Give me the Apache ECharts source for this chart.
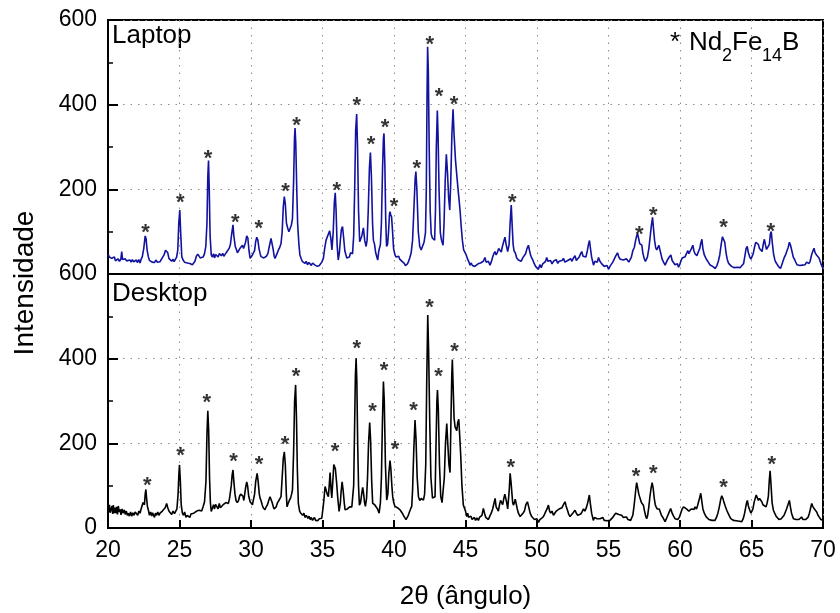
<!DOCTYPE html>
<html>
<head>
<meta charset="utf-8">
<script src="https://cdn.jsdelivr.net/npm/echarts@6/dist/echarts.min.js"></script>
<style>
html,body{margin:0;padding:0;background:#fff;}
#chart{width:840px;height:613px;}
</style>
</head>
<body>
<div id="chart"></div>
<script>
// ---- Data (2θ in degrees, intensity in counts) ----
const xTicks = [20, 25, 30, 35, 40, 45, 50, 55, 60, 65, 70];
const yTicks = [0, 200, 400, 600];
const panelNames = ['Laptop', 'Desktop'];

const laptopPattern = [
[20.00,47],[20.10,40],[20.18,44],[20.26,37],[20.35,35],[20.45,40],[20.52,31],[20.61,33],[20.70,36],[20.80,30],[20.90,35],[20.96,53],[21.02,34],[21.10,30],[21.20,36],[21.30,31],[21.40,35],[21.54,33],[21.62,28],[21.70,34],[21.80,29],[21.89,25],[21.98,33],[22.05,27],[22.15,34],[22.24,26],[22.32,35],[22.40,41],[22.50,60],[22.60,90],[22.66,84],[22.74,55],[22.82,41],[22.90,32],[23.00,35],[23.08,28],[23.17,31],[23.25,27],[23.35,33],[23.45,28],[23.55,32],[23.64,29],[23.72,34],[23.82,37],[23.92,45],[24.02,56],[24.10,58],[24.18,50],[24.26,37],[24.35,33],[24.45,30],[24.55,35],[24.62,29],[24.70,33],[24.80,40],[24.88,57],[24.95,120],[25.02,151],[25.08,100],[25.16,41],[25.25,33],[25.35,28],[25.45,32],[25.55,26],[25.63,29],[25.72,25],[25.82,27],[25.90,22],[25.98,24],[26.08,30],[26.18,42],[26.28,47],[26.36,44],[26.45,38],[26.56,41],[26.65,40],[26.75,48],[26.84,65],[26.92,120],[26.98,230],[27.03,268],[27.08,200],[27.14,90],[27.22,45],[27.30,40],[27.38,48],[27.45,38],[27.53,46],[27.62,45],[27.70,40],[27.78,48],[27.85,50],[27.93,43],[28.02,49],[28.10,42],[28.20,47],[28.30,52],[28.40,56],[28.48,61],[28.56,70],[28.65,95],[28.74,116],[28.80,90],[28.90,65],[28.98,58],[29.05,50],[29.13,53],[29.22,60],[29.30,58],[29.40,68],[29.48,60],[29.55,61],[29.62,75],[29.70,90],[29.78,85],[29.86,55],[29.94,37],[30.02,40],[30.10,45],[30.17,49],[30.25,55],[30.32,75],[30.40,87],[30.48,80],[30.56,60],[30.64,48],[30.70,41],[30.80,44],[30.90,38],[30.98,37],[31.08,42],[31.18,48],[31.28,65],[31.40,84],[31.47,80],[31.55,58],[31.62,42],[31.68,37],[31.75,40],[31.82,48],[31.92,57],[32.00,62],[32.10,72],[32.18,100],[32.26,160],[32.33,183],[32.40,165],[32.48,120],[32.57,108],[32.65,100],[32.73,104],[32.82,115],[32.90,131],[32.98,220],[33.04,320],[33.08,345],[33.13,310],[33.20,200],[33.26,120],[33.35,70],[33.42,45],[33.50,37],[33.58,30],[33.66,28],[33.78,25],[33.86,30],[33.95,22],[34.05,27],[34.13,24],[34.22,20],[34.30,26],[34.40,22],[34.48,21],[34.56,25],[34.64,18],[34.71,17],[34.78,20],[34.86,22],[34.95,28],[35.06,37],[35.15,60],[35.25,80],[35.33,78],[35.42,95],[35.50,102],[35.58,85],[35.66,57],[35.75,100],[35.83,170],[35.89,192],[35.95,150],[36.02,70],[36.10,33],[36.18,50],[36.25,80],[36.32,105],[36.40,112],[36.48,85],[36.56,55],[36.64,45],[36.70,38],[36.80,42],[36.88,40],[36.96,50],[37.04,53],[37.10,48],[37.18,90],[37.25,200],[37.32,340],[37.39,378],[37.45,300],[37.52,150],[37.60,76],[37.68,72],[37.75,90],[37.86,109],[37.95,80],[38.05,65],[38.12,80],[38.20,150],[38.28,250],[38.35,287],[38.42,230],[38.50,120],[38.56,80],[38.64,70],[38.72,50],[38.80,40],[38.86,33],[38.94,55],[39.05,70],[39.12,120],[39.20,250],[39.26,320],[39.30,332],[39.36,260],[39.42,130],[39.48,65],[39.55,70],[39.62,100],[39.68,140],[39.72,147],[39.77,140],[39.83,135],[39.90,100],[39.97,60],[40.07,45],[40.15,40],[40.25,38],[40.33,42],[40.40,35],[40.48,37],[40.56,30],[40.64,32],[40.72,25],[40.80,20],[40.86,17],[40.94,24],[41.02,30],[41.10,38],[41.20,50],[41.30,80],[41.40,160],[41.48,225],[41.53,242],[41.60,200],[41.70,100],[41.80,65],[41.90,57],[42.00,60],[42.10,75],[42.20,97],[42.26,200],[42.31,420],[42.35,537],[42.40,480],[42.46,300],[42.53,150],[42.60,95],[42.68,85],[42.76,82],[42.84,80],[42.90,150],[42.96,300],[43.03,386],[43.08,330],[43.15,200],[43.24,97],[43.32,80],[43.43,68],[43.50,120],[43.58,220],[43.66,283],[43.74,240],[43.82,180],[43.90,151],[43.97,220],[44.05,330],[44.13,389],[44.20,330],[44.30,269],[44.40,230],[44.48,200],[44.55,175],[44.62,150],[44.70,112],[44.78,80],[44.87,57],[44.97,53],[45.05,45],[45.15,35],[45.22,30],[45.32,21],[45.40,26],[45.48,20],[45.56,23],[45.65,18],[45.72,22],[45.78,17],[45.88,24],[45.96,20],[46.05,26],[46.15,22],[46.25,30],[46.36,39],[46.44,28],[46.52,25],[46.60,30],[46.71,21],[46.80,28],[46.90,40],[46.98,48],[47.06,53],[47.14,45],[47.22,50],[47.32,60],[47.41,57],[47.50,52],[47.58,65],[47.66,75],[47.76,87],[47.84,70],[47.95,53],[48.05,70],[48.12,120],[48.20,163],[48.27,110],[48.33,70],[48.39,55],[48.48,50],[48.58,38],[48.70,33],[48.80,35],[48.90,30],[49.00,38],[49.10,42],[49.20,48],[49.30,60],[49.40,68],[49.48,55],[49.55,45],[49.63,38],[49.72,32],[49.80,25],[49.90,18],[50.00,20],[50.10,11],[50.20,22],[50.30,15],[50.40,24],[50.50,20],[50.60,30],[50.68,39],[50.76,30],[50.85,26],[50.95,32],[51.05,24],[51.15,30],[51.26,29],[51.35,34],[51.45,25],[51.55,30],[51.65,28],[51.75,32],[51.85,37],[51.95,28],[52.05,24],[52.15,32],[52.25,28],[52.35,36],[52.45,30],[52.55,38],[52.66,43],[52.75,32],[52.85,28],[52.95,40],[53.05,48],[53.13,53],[53.22,42],[53.32,45],[53.42,40],[53.52,55],[53.60,70],[53.67,79],[53.74,60],[53.82,40],[53.95,21],[54.05,30],[54.15,34],[54.22,28],[54.30,39],[54.40,30],[54.50,25],[54.60,22],[54.70,18],[54.80,15],[54.90,20],[55.00,11],[55.10,18],[55.20,20],[55.30,28],[55.40,35],[55.50,42],[55.63,50],[55.72,40],[55.82,35],[55.92,38],[56.05,33],[56.15,30],[56.25,36],[56.35,32],[56.42,28],[56.50,29],[56.60,40],[56.70,55],[56.80,62],[56.90,80],[56.97,90],[57.03,96],[57.10,85],[57.18,72],[57.26,74],[57.33,68],[57.40,50],[57.50,36],[57.58,30],[57.63,29],[57.72,40],[57.82,60],[57.92,90],[58.00,115],[58.08,134],[58.14,110],[58.22,80],[58.30,62],[58.38,57],[58.46,60],[58.52,68],[58.57,65],[58.66,48],[58.75,35],[58.85,28],[58.96,21],[59.05,28],[59.15,35],[59.25,40],[59.36,45],[59.45,32],[59.55,28],[59.65,22],[59.75,20],[59.82,24],[59.90,16],[59.98,22],[60.06,30],[60.15,38],[60.25,34],[60.36,41],[60.45,48],[60.55,55],[60.62,48],[60.70,52],[60.80,60],[60.90,68],[60.97,55],[61.05,48],[61.12,50],[61.18,43],[61.28,52],[61.38,60],[61.45,72],[61.53,82],[61.60,60],[61.70,45],[61.80,38],[61.88,33],[61.98,28],[62.08,22],[62.18,24],[62.28,18],[62.38,16],[62.47,13],[62.58,20],[62.68,30],[62.78,45],[62.88,70],[62.97,88],[63.05,92],[63.13,75],[63.22,50],[63.30,35],[63.40,25],[63.50,22],[63.60,18],[63.70,20],[63.80,15],[63.90,18],[64.00,16],[64.10,20],[64.20,15],[64.33,16],[64.45,25],[64.55,45],[64.62,60],[64.70,65],[64.78,50],[64.88,40],[64.96,35],[65.04,33],[65.12,48],[65.22,65],[65.30,75],[65.39,79],[65.48,70],[65.56,60],[65.64,62],[65.74,53],[65.82,70],[65.90,82],[65.98,68],[66.05,58],[66.10,61],[66.18,55],[66.25,70],[66.32,95],[66.38,100],[66.45,75],[66.54,48],[66.62,35],[66.68,29],[66.78,25],[66.88,18],[66.96,15],[67.03,13],[67.12,22],[67.20,30],[67.28,38],[67.38,45],[67.48,55],[67.56,62],[67.65,75],[67.73,68],[67.82,55],[67.92,40],[68.00,35],[68.08,29],[68.18,22],[68.28,25],[68.38,20],[68.46,24],[68.55,21],[68.65,25],[68.75,22],[68.85,28],[68.95,24],[69.02,25],[69.10,30],[69.20,45],[69.30,55],[69.37,61],[69.45,50],[69.55,45],[69.62,42],[69.72,38],[69.80,30],[69.88,22],[69.95,18],[70.00,13]
];

const desktopPattern = [
[20.00,50],[20.05,38],[20.10,55],[20.15,36],[20.21,39],[20.28,52],[20.33,33],[20.37,54],[20.43,35],[20.50,48],[20.54,35],[20.60,50],[20.66,32],[20.72,52],[20.78,38],[20.85,44],[20.91,31],[20.98,45],[21.05,35],[21.14,43],[21.20,32],[21.28,40],[21.35,30],[21.42,35],[21.50,28],[21.58,38],[21.66,28],[21.74,36],[21.82,30],[21.90,38],[22.00,36],[22.08,30],[22.16,40],[22.24,35],[22.30,43],[22.38,40],[22.45,60],[22.50,62],[22.55,55],[22.60,80],[22.65,91],[22.70,70],[22.76,50],[22.82,43],[22.90,30],[22.98,38],[23.06,28],[23.12,36],[23.17,33],[23.25,25],[23.32,35],[23.40,30],[23.48,38],[23.56,30],[23.64,35],[23.72,32],[23.80,40],[23.90,38],[24.00,48],[24.10,58],[24.18,48],[24.26,40],[24.35,39],[24.45,32],[24.55,40],[24.65,34],[24.74,36],[24.82,45],[24.90,80],[24.96,130],[25.00,149],[25.06,110],[25.12,55],[25.20,35],[25.28,30],[25.36,38],[25.45,25],[25.54,30],[25.63,27],[25.72,25],[25.80,33],[25.90,30],[26.00,35],[26.10,35],[26.20,40],[26.30,38],[26.38,42],[26.45,43],[26.55,40],[26.65,50],[26.75,62],[26.85,110],[26.92,220],[26.98,277],[27.04,230],[27.10,120],[27.16,60],[27.22,39],[27.30,42],[27.38,55],[27.45,45],[27.52,56],[27.62,54],[27.70,45],[27.78,58],[27.86,48],[27.97,50],[28.05,55],[28.15,52],[28.25,60],[28.32,62],[28.42,58],[28.50,70],[28.55,74],[28.62,100],[28.68,125],[28.74,137],[28.80,110],[28.88,80],[28.95,65],[29.04,60],[29.13,65],[29.20,75],[29.28,80],[29.36,82],[29.44,75],[29.50,65],[29.55,69],[29.62,95],[29.70,109],[29.76,100],[29.84,75],[29.94,62],[30.02,58],[30.10,55],[30.17,58],[30.25,80],[30.33,110],[30.43,129],[30.50,110],[30.58,80],[30.64,70],[30.70,65],[30.78,55],[30.85,48],[30.92,46],[30.98,43],[31.06,50],[31.15,55],[31.24,65],[31.33,74],[31.40,70],[31.48,60],[31.56,50],[31.62,45],[31.68,43],[31.76,50],[31.86,60],[31.95,65],[32.03,68],[32.10,74],[32.18,120],[32.26,165],[32.33,180],[32.40,150],[32.47,80],[32.52,50],[32.57,50],[32.62,60],[32.68,65],[32.76,70],[32.84,80],[32.90,90],[32.98,180],[33.05,300],[33.12,338],[33.18,260],[33.24,140],[33.31,58],[33.40,40],[33.48,35],[33.55,31],[33.62,30],[33.70,35],[33.78,25],[33.86,30],[33.90,27],[33.98,23],[34.06,28],[34.14,20],[34.22,25],[34.30,18],[34.36,20],[34.44,25],[34.52,18],[34.60,22],[34.66,17],[34.71,17],[34.78,22],[34.86,20],[34.95,23],[34.99,27],[35.08,60],[35.18,98],[35.25,98],[35.33,80],[35.41,74],[35.47,100],[35.53,131],[35.60,90],[35.65,71],[35.72,110],[35.79,150],[35.83,153],[35.90,140],[35.99,106],[36.07,70],[36.16,39],[36.25,60],[36.30,85],[36.37,109],[36.44,90],[36.52,60],[36.58,43],[36.66,40],[36.74,45],[36.81,43],[36.90,50],[36.98,54],[37.05,50],[37.11,51],[37.18,100],[37.24,230],[37.30,360],[37.35,401],[37.40,350],[37.46,200],[37.52,100],[37.58,54],[37.66,60],[37.74,80],[37.81,96],[37.88,80],[37.94,60],[38.00,51],[38.08,70],[38.15,120],[38.22,200],[38.30,249],[38.36,210],[38.44,110],[38.51,58],[38.58,62],[38.65,55],[38.75,51],[38.85,45],[38.96,35],[39.05,60],[39.12,120],[39.19,250],[39.26,346],[39.32,300],[39.40,150],[39.49,66],[39.57,80],[39.64,130],[39.72,159],[39.78,140],[39.85,100],[39.91,74],[39.98,60],[40.07,51],[40.15,55],[40.24,48],[40.33,52],[40.42,43],[40.50,40],[40.58,35],[40.66,30],[40.74,25],[40.84,20],[40.92,23],[41.00,30],[41.08,38],[41.16,45],[41.24,51],[41.30,90],[41.38,180],[41.47,255],[41.54,210],[41.62,120],[41.71,74],[41.80,65],[41.90,70],[41.98,68],[42.06,66],[42.14,80],[42.22,150],[42.29,350],[42.36,503],[42.42,420],[42.50,250],[42.58,120],[42.69,71],[42.78,70],[42.87,74],[42.94,200],[43.00,300],[43.04,326],[43.10,280],[43.18,150],[43.27,74],[43.36,60],[43.45,63],[43.52,120],[43.60,200],[43.69,247],[43.76,200],[43.84,150],[43.92,131],[43.98,250],[44.04,360],[44.08,398],[44.14,330],[44.20,260],[44.27,239],[44.33,235],[44.39,230],[44.46,250],[44.53,257],[44.60,215],[44.67,168],[44.75,100],[44.85,54],[44.92,50],[45.00,40],[45.09,27],[45.15,35],[45.22,25],[45.30,22],[45.38,28],[45.46,20],[45.55,20],[45.62,25],[45.70,18],[45.80,24],[45.90,18],[45.98,25],[46.06,22],[46.15,30],[46.25,46],[46.33,35],[46.42,25],[46.50,22],[46.60,20],[46.70,28],[46.80,35],[46.90,45],[47.00,60],[47.07,70],[47.14,50],[47.22,45],[47.30,40],[47.38,55],[47.45,65],[47.53,60],[47.60,55],[47.68,70],[47.75,80],[47.81,82],[47.88,60],[47.95,45],[48.00,42],[48.06,90],[48.12,129],[48.18,110],[48.25,80],[48.30,60],[48.35,54],[48.42,60],[48.48,68],[48.54,65],[48.62,45],[48.70,35],[48.82,27],[48.92,30],[49.02,35],[49.12,40],[49.22,55],[49.33,62],[49.42,50],[49.52,35],[49.63,27],[49.72,25],[49.82,20],[49.92,18],[50.00,22],[50.10,13],[50.20,20],[50.30,18],[50.40,25],[50.50,30],[50.60,38],[50.70,45],[50.80,54],[50.88,40],[50.96,35],[51.05,40],[51.15,30],[51.26,33],[51.35,40],[51.45,38],[51.55,45],[51.65,42],[51.75,48],[51.85,55],[51.96,62],[52.05,50],[52.15,40],[52.22,32],[52.31,27],[52.40,30],[52.50,35],[52.58,38],[52.66,42],[52.75,35],[52.85,30],[52.95,28],[53.06,33],[53.15,38],[53.25,45],[53.35,40],[53.45,48],[53.55,60],[53.66,78],[53.74,55],[53.82,35],[53.94,18],[54.02,25],[54.10,28],[54.20,22],[54.30,26],[54.41,22],[54.50,20],[54.60,25],[54.70,18],[54.80,20],[54.90,17],[55.00,15],[55.10,18],[55.20,22],[55.30,25],[55.40,30],[55.50,35],[55.62,38],[55.72,32],[55.82,28],[55.92,30],[56.04,25],[56.16,22],[56.26,26],[56.36,20],[56.46,22],[56.55,18],[56.62,18],[56.70,30],[56.78,50],[56.86,75],[56.92,95],[56.97,107],[57.04,95],[57.12,80],[57.21,70],[57.30,60],[57.37,62],[57.44,54],[57.52,40],[57.60,28],[57.67,22],[57.74,30],[57.82,50],[57.90,75],[57.98,95],[58.05,107],[58.12,95],[58.20,70],[58.27,55],[58.33,50],[58.40,45],[58.48,48],[58.55,45],[58.60,42],[58.70,30],[58.80,25],[58.88,20],[58.96,15],[59.05,22],[59.15,30],[59.25,38],[59.35,46],[59.45,35],[59.55,28],[59.65,22],[59.77,18],[59.85,20],[59.95,25],[60.05,35],[60.15,45],[60.25,50],[60.35,54],[60.45,45],[60.55,42],[60.62,40],[60.70,38],[60.80,45],[60.90,48],[60.98,44],[61.05,50],[61.15,45],[61.22,52],[61.30,62],[61.38,72],[61.45,82],[61.52,65],[61.60,45],[61.70,35],[61.82,27],[61.92,25],[62.02,20],[62.12,22],[62.22,18],[62.34,15],[62.45,18],[62.55,25],[62.65,35],[62.75,50],[62.85,68],[62.92,76],[63.00,70],[63.08,60],[63.18,50],[63.27,42],[63.36,35],[63.46,28],[63.55,22],[63.64,20],[63.73,18],[63.84,20],[63.94,17],[64.04,18],[64.14,16],[64.24,18],[64.32,15],[64.42,22],[64.52,35],[64.60,50],[64.66,60],[64.71,65],[64.78,52],[64.88,42],[64.96,35],[65.02,33],[65.10,45],[65.18,60],[65.26,70],[65.33,78],[65.40,72],[65.48,65],[65.56,70],[65.64,68],[65.72,62],[65.80,55],[65.90,52],[66.02,50],[66.10,60],[66.18,75],[66.24,110],[66.30,135],[66.36,105],[66.44,60],[66.53,42],[66.62,35],[66.72,28],[66.82,25],[66.92,20],[67.00,18],[67.08,22],[67.18,25],[67.28,30],[67.35,33],[67.45,45],[67.55,55],[67.65,65],[67.72,50],[67.80,35],[67.93,22],[68.02,25],[68.12,20],[68.22,24],[68.32,20],[68.40,22],[68.50,26],[68.60,20],[68.70,24],[68.78,20],[68.86,18],[68.95,25],[69.05,35],[69.12,45],[69.21,58],[69.30,50],[69.40,45],[69.48,42],[69.56,38],[69.65,30],[69.75,25],[69.85,20],[69.92,22],[70.00,18]
];

// Nd2Fe14B reflections marked with '*': [2θ, height of the mark]
const laptopMarks = [[22.62,108],[25.05,179],[27.0,283],[28.9,133],[30.55,118],[32.42,206],[33.18,361],[36.0,209],[37.4,409],[38.4,317],[39.38,357],[40.0,171],[41.59,259],[42.5,554],[43.15,429],[44.2,411],[48.28,180],[57.16,105],[58.14,150],[63.04,120],[66.35,112]];
const desktopMarks = [[22.75,112],[25.08,183],[26.9,308],[28.77,169],[30.56,161],[32.38,209],[33.15,369],[35.88,191],[37.39,435],[38.49,285],[39.3,383],[40.07,196],[41.36,289],[42.48,532],[43.11,368],[44.23,427],[48.16,154],[56.93,133],[58.14,139],[63.04,106],[66.41,161]];

// ---- Chart ----
const FONT = "'Liberation Sans', Arial, sans-serif";
const chart = echarts.init(document.getElementById('chart'), null, {renderer: 'canvas'});

const dotted = {show: true, lineStyle: {color: '#8c8c8c', width: 1, type: [1.5, 6]}};

function xAxisFor(gridIndex, bottom) {
  return {
    type: 'value', gridIndex: gridIndex, min: xTicks[0], max: xTicks[xTicks.length - 1], interval: 5,
    axisLine: {show: true, lineStyle: {color: '#000', width: 2}},
    axisTick: {show: bottom, inside: true, length: 8, lineStyle: {color: '#000', width: 2}},
    axisLabel: {show: bottom, color: '#000', fontSize: 23, fontFamily: FONT, margin: 11},
    splitLine: dotted,
    name: bottom ? '2θ (ângulo)' : '',
    nameLocation: 'middle', nameGap: 56,
    nameTextStyle: {color: '#000', fontSize: 26, fontFamily: FONT}
  };
}
function yAxisFor(gridIndex, hideZero) {
  return {
    type: 'value', gridIndex: gridIndex, min: yTicks[0], max: yTicks[yTicks.length - 1], interval: 200,
    axisLine: {show: true, lineStyle: {color: '#000', width: 2}},
    axisTick: {show: true, inside: true, length: 10, lineStyle: {color: '#000', width: 2}},
    minorTick: {show: true, splitNumber: 2, length: 5, lineStyle: {color: '#000', width: 1.5}},
    axisLabel: {color: '#000', fontSize: 23, fontFamily: FONT, margin: 11,
      formatter: v => (hideZero && v === 0) ? '' : String(v)},
    splitLine: dotted
  };
}
function marks(data, xi, yi) {
  return {
    type: 'scatter', xAxisIndex: xi, yAxisIndex: yi, data: data, symbolSize: 1,
    itemStyle: {color: 'rgba(0,0,0,0)'}, silent: true, z: 5,
    label: {show: true, formatter: '*', position: 'inside', offset: [0, 5],
      color: '#000', fontSize: 22, fontWeight: 'bold', fontFamily: FONT}
  };
}

const option = {
  animation: false,
  backgroundColor: '#fff',
  grid: [
    {left: 108, top: 20, width: 715, height: 254, show: true, borderColor: '#000', borderWidth: 2, backgroundColor: 'transparent'},
    {left: 108, top: 274, width: 715, height: 254, show: true, borderColor: '#000', borderWidth: 2, backgroundColor: 'transparent'}
  ],
  xAxis: [xAxisFor(0, false), xAxisFor(1, true)],
  yAxis: [yAxisFor(0, true), yAxisFor(1, false)],
  series: [
    {type: 'line', name: panelNames[0], xAxisIndex: 0, yAxisIndex: 0, data: laptopPattern, showSymbol: false,
      lineStyle: {color: '#1212a0', width: 1.6}, itemStyle: {color: '#1212a0'}},
    {type: 'line', name: panelNames[1], xAxisIndex: 1, yAxisIndex: 1, data: desktopPattern, showSymbol: false,
      lineStyle: {color: '#000', width: 1.6}, itemStyle: {color: '#000'}},
    marks(laptopMarks, 0, 0),
    marks(desktopMarks, 1, 1)
  ],
  graphic: [
    {type: 'text', x: 112, y: 36, style: {text: panelNames[0], font: '26px ' + FONT, fill: '#000', align: 'left', verticalAlign: 'middle'}},
    {type: 'text', x: 112, y: 294, style: {text: panelNames[1], font: '26px ' + FONT, fill: '#000', align: 'left', verticalAlign: 'middle'}},
    {type: 'text', x: 25, y: 283, rotation: Math.PI / 2, style: {text: 'Intensidade', font: '28px ' + FONT, fill: '#000', align: 'center', verticalAlign: 'middle'}},
    {type: 'text', x: 670, y: 42.6, style: {text: '*', font: '26px ' + FONT, fill: '#000', align: 'left', verticalAlign: 'middle'}},
    {type: 'text', x: 689, y: 42.6, style: {text: 'Nd', font: '26px ' + FONT, fill: '#000', align: 'left', verticalAlign: 'middle'}},
    {type: 'text', x: 722, y: 56.5, style: {text: '2', font: '18px ' + FONT, fill: '#000', align: 'left', verticalAlign: 'middle'}},
    {type: 'text', x: 732, y: 42.6, style: {text: 'Fe', font: '26px ' + FONT, fill: '#000', align: 'left', verticalAlign: 'middle'}},
    {type: 'text', x: 762, y: 56.5, style: {text: '14', font: '18px ' + FONT, fill: '#000', align: 'left', verticalAlign: 'middle'}},
    {type: 'text', x: 782, y: 42.6, style: {text: 'B', font: '26px ' + FONT, fill: '#000', align: 'left', verticalAlign: 'middle'}}
  ]
};
chart.setOption(option);
</script>
</body>
</html>
